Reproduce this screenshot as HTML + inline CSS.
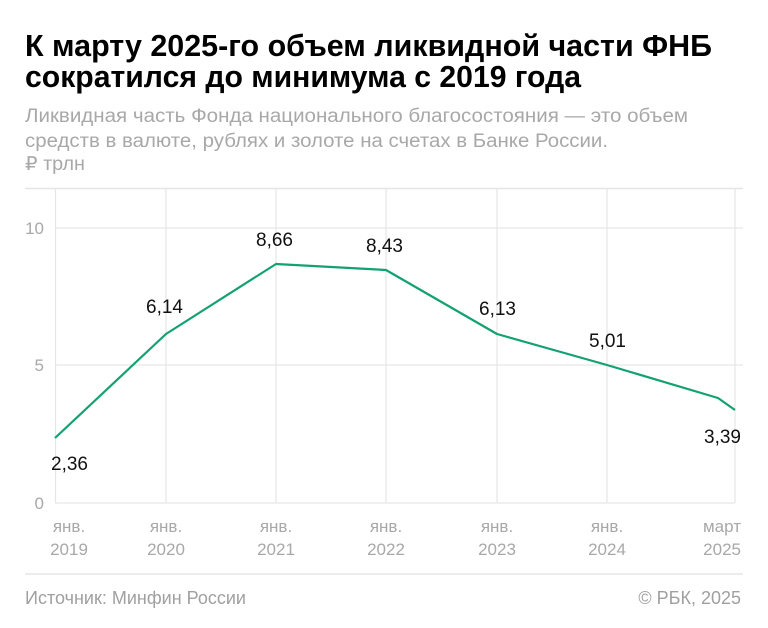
<!DOCTYPE html>
<html><head><meta charset="utf-8"><style>
body{margin:0;background:#fff}
svg{display:block}
text{font-family:"Liberation Sans",sans-serif}
</style></head><body>
<svg width="768" height="628" viewBox="0 0 768 628" xmlns="http://www.w3.org/2000/svg">
<text x="25" y="56" font-size="31" font-weight="bold" fill="#000" textLength="687" lengthAdjust="spacingAndGlyphs">К марту 2025-го объем ликвидной части ФНБ</text>
<text x="25" y="87" font-size="31" font-weight="bold" fill="#000" textLength="556" lengthAdjust="spacingAndGlyphs">сократился до минимума с 2019 года</text>
<g fill="#a8a8a8" font-size="19">
<text x="25" y="122" textLength="663" lengthAdjust="spacingAndGlyphs">Ликвидная часть Фонда национального благосостояния — это объем</text>
<text x="25" y="147" textLength="583" lengthAdjust="spacingAndGlyphs">средств в валюте, рублях и золоте на счетах в Банке России.</text>
<text x="25" y="170" textLength="60" lengthAdjust="spacingAndGlyphs">₽ трлн</text>
</g>
<line x1="25" y1="188.5" x2="743" y2="188.5" stroke="#e6e6e6" stroke-width="1.5"/>
<g stroke="#e6e6e6" stroke-width="1.2">
<line x1="55.5" y1="188" x2="55.5" y2="503"/>
<line x1="166" y1="188" x2="166" y2="503"/>
<line x1="276" y1="188" x2="276" y2="503"/>
<line x1="386" y1="188" x2="386" y2="503"/>
<line x1="497" y1="188" x2="497" y2="503"/>
<line x1="607" y1="188" x2="607" y2="503"/>
<line x1="735" y1="188" x2="735" y2="503"/>
<line x1="55" y1="228" x2="743" y2="228"/>
<line x1="55" y1="365" x2="743" y2="365"/>
<line x1="55" y1="503" x2="735" y2="503"/>
</g>
<g fill="#a8a8a8" font-size="17" text-anchor="end">
<text x="44" y="234">10</text>
<text x="44" y="371">5</text>
<text x="44" y="509">0</text>
</g>
<polyline points="55,438 166,334 276,264 386,270 497,334 607,365 718,398 735,410" fill="none" stroke="#13a172" stroke-width="2.2" stroke-linejoin="round"/>
<g fill="#111" font-size="19">
<text x="51" y="470">2,36</text>
<text x="146" y="313">6,14</text>
<text x="256" y="246">8,66</text>
<text x="366" y="252">8,43</text>
<text x="479" y="315">6,13</text>
<text x="589" y="347">5,01</text>
<text x="741" y="443" text-anchor="end">3,39</text>
</g>
<g fill="#a8a8a8" font-size="17" text-anchor="middle">
<text x="69" y="532">янв.</text><text x="69" y="555">2019</text>
<text x="166" y="532">янв.</text><text x="166" y="555">2020</text>
<text x="276" y="532">янв.</text><text x="276" y="555">2021</text>
<text x="386" y="532">янв.</text><text x="386" y="555">2022</text>
<text x="497" y="532">янв.</text><text x="497" y="555">2023</text>
<text x="607" y="532">янв.</text><text x="607" y="555">2024</text>
<text x="741" y="532" text-anchor="end">март</text><text x="741" y="555" text-anchor="end">2025</text>
</g>
<line x1="25" y1="574" x2="743" y2="574" stroke="#e6e6e6" stroke-width="1.5"/>
<text x="25" y="604" font-size="18" fill="#a0a0a0">Источник: Минфин России</text>
<text x="741" y="604" font-size="18" fill="#a0a0a0" text-anchor="end">© РБК, 2025</text>
</svg>
</body></html>
